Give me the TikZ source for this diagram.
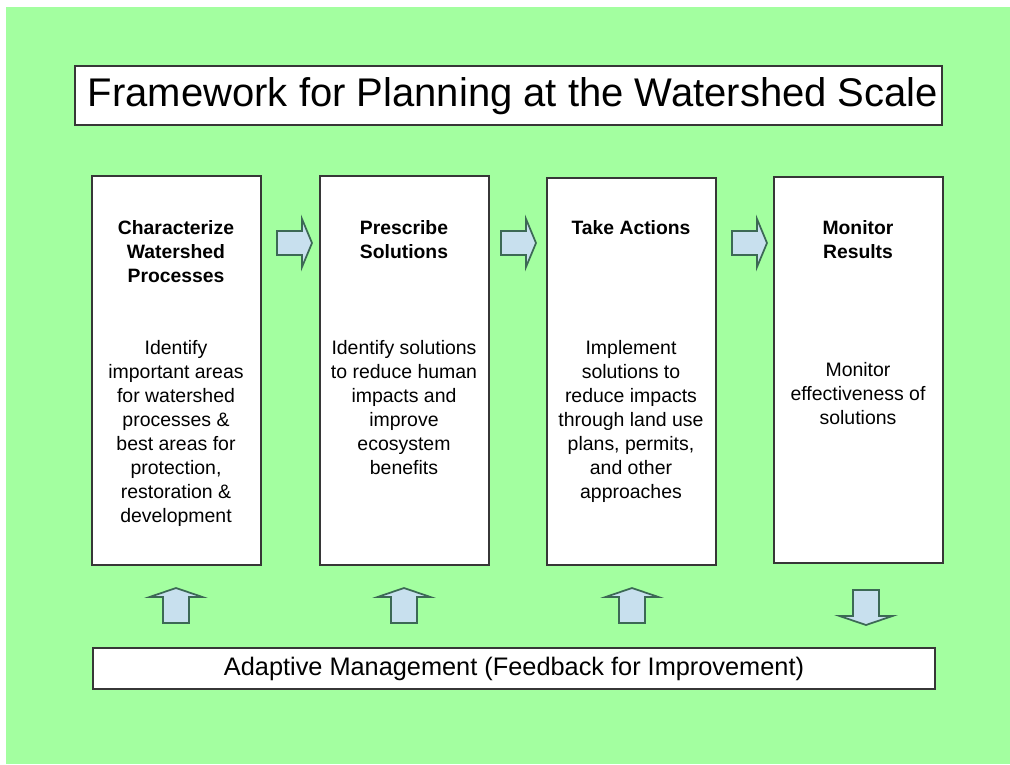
\documentclass[tikz,border=0pt]{standalone}
\usepackage{fontspec}
\setmainfont{Liberation Sans}
\definecolor{bggreen}{RGB}{163,255,160}
\definecolor{arrowfill}{RGB}{200,224,238}
\definecolor{arrowedge}{RGB}{60,105,85}
\definecolor{boxedge}{RGB}{55,55,55}
\tikzset{
  box/.style={draw=boxedge, line width=1.3pt, fill=white, inner sep=0pt},
  blockarrow/.style={draw=arrowedge, fill=arrowfill, line width=1.3pt, line join=miter},
  headtext/.style={font=\fontsize{14.5}{18}\selectfont\bfseries, align=center, anchor=north, inner sep=0pt},
  bodytext/.style={font=\fontsize{14.6}{18}\selectfont, align=center, anchor=north, inner sep=0pt},
}
\newcommand{\rblock}[2]{% left x, center y
  \draw[blockarrow] (#1,#2-12) -- (#1+25,#2-12) -- (#1+25,#2-24) -- (#1+35,#2) -- (#1+25,#2+24) -- (#1+25,#2+12) -- (#1,#2+12) -- cycle;}
\newcommand{\ublock}[1]{% center x
  \draw[blockarrow] (#1-13,623) -- (#1-13,597) -- (#1-26.5,597) -- (#1,588) -- (#1+26.5,597) -- (#1+13,597) -- (#1+13,623) -- cycle;}
\newcommand{\dblock}[1]{% center x
  \draw[blockarrow] (#1-13,590) -- (#1-13,616) -- (#1-26.5,616) -- (#1,625) -- (#1+26.5,616) -- (#1+13,616) -- (#1+13,590) -- cycle;}
\begin{document}
\begin{tikzpicture}[x=0.75pt,y=-0.75pt]
\useasboundingbox (0,0) rectangle (1010,764);
\fill[white] (0,0) rectangle (1010,764);
\fill[bggreen] (6,7) rectangle (1010,764);

\node[box, minimum width=650.25pt, minimum height=44.25pt] (title) at (508.5,95.5) {};
\node[inner sep=0pt, font=\fontsize{30}{36}\selectfont] (titletext) at (513,96.5) {Framework for Planning at the Watershed Scale};

\node[box, minimum width=126.75pt, minimum height=291.75pt] (c1) at (176.5,370.5) {};
\node[box, minimum width=126.75pt, minimum height=291.75pt] (c2) at (404.5,370.5) {};
\node[box, minimum width=126.75pt, minimum height=290.25pt] (c3) at (631.5,371.5) {};
\node[box, minimum width=126.75pt, minimum height=289.5pt] (c4) at (858.5,370) {};

\node[headtext] (h1) at (176,220) {Characterize\\Watershed\\Processes};
\node[headtext] (h2) at (404,220) {Prescribe\\Solutions};
\node[headtext] (h3) at (631,220) {Take Actions};
\node[headtext] (h4) at (858,220) {Monitor\\Results};

\node[bodytext] (b1) at (176,340) {Identify\\important areas\\for watershed\\processes \&\\best areas for\\protection,\\restoration \&\\development};
\node[bodytext] (b2) at (404,340) {Identify solutions\\to reduce human\\impacts and\\improve\\ecosystem\\benefits};
\node[bodytext] (b3) at (631,340) {Implement\\solutions to\\reduce impacts\\through land use\\plans, permits,\\and other\\approaches};
\node[bodytext] (b4) at (858,362) {Monitor\\effectiveness of\\solutions};

\node[box, minimum width=631.5pt, minimum height=30.75pt, font=\fontsize{19}{23}\selectfont] (adapt) at (514,668.5) {Adaptive Management (Feedback for Improvement)};

\rblock{277}{243}
\rblock{501}{243}
\rblock{732}{243}

\ublock{176}
\ublock{404}
\ublock{632}
\dblock{866}
\end{tikzpicture}
\end{document}
